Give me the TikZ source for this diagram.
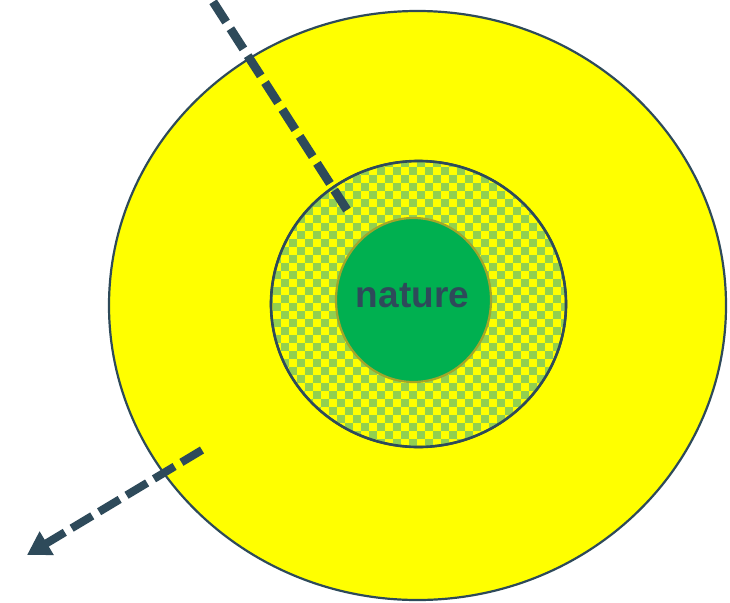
\documentclass[tikz,border=0pt]{standalone}
\usepackage{fontspec}
\setmainfont{Liberation Sans}
\usepackage{xcolor}
\usetikzlibrary{shapes.geometric,arrows.meta}

\definecolor{slate}{HTML}{2E4A5A}
\definecolor{sun}{HTML}{FFFF00}
\definecolor{leaf}{HTML}{00B050}
\definecolor{checkgreen}{HTML}{92D050}
\definecolor{olive}{HTML}{A3A62A}

\begin{document}
\begin{tikzpicture}[
    x=1pt, y=-1pt,
    zone/.style={
        ellipse, draw=slate, line width=2.2pt, inner sep=0pt
    },
    flow/.style={draw=slate, line width=8.8pt, dash pattern=on 24pt off 8pt}
]
    \useasboundingbox (0,0) rectangle (730,602);

    % rings
    \node [zone, fill=sun, minimum width=617pt, minimum height=589pt] (outer) at (417.5,305.5) {};
    \node [zone, fill=sun, minimum width=295pt, minimum height=286pt] (ring) at (418.5,304) {};
    \begin{scope}
        \clip (ring.center) ellipse [x radius=147.5, y radius=143];
        \foreach \i in {0,...,38}
            \foreach \j in {0,...,37} {
                \pgfmathtruncatemacro\odd{mod(\i+\j,2)}
                \ifnum\odd=1
                    \fill [checkgreen] (265+8*\i,159+8*\j) rectangle ++(8,8);
                \fi
            }
    \end{scope}
    \node [zone, line width=2.6pt, minimum width=295pt, minimum height=286pt] (ringline) at (ring.center) {};
    \node [ellipse, draw=olive, fill=leaf, line width=2.2pt, inner sep=0pt,
           minimum width=155pt, minimum height=164pt] (core) at (413.5,300) {};
    \node [anchor=base, text=slate, font=\bfseries\fontsize{37}{40}\selectfont, inner sep=0pt]
        (label) at (412.5,307) {nature};

    % paths in and out
    \coordinate (inStart) at (195.8,-25.1);
    \coordinate (inEnd) at (347,210);
    \coordinate (outStart) at (202,450);
    \coordinate (outEnd) at (27,555);
    \draw [flow] (inStart) -- (inEnd);
    \draw [flow, line width=8pt, -{Triangle[length=23pt,width=26pt]}] (outStart) -- (outEnd);
\end{tikzpicture}
\end{document}
